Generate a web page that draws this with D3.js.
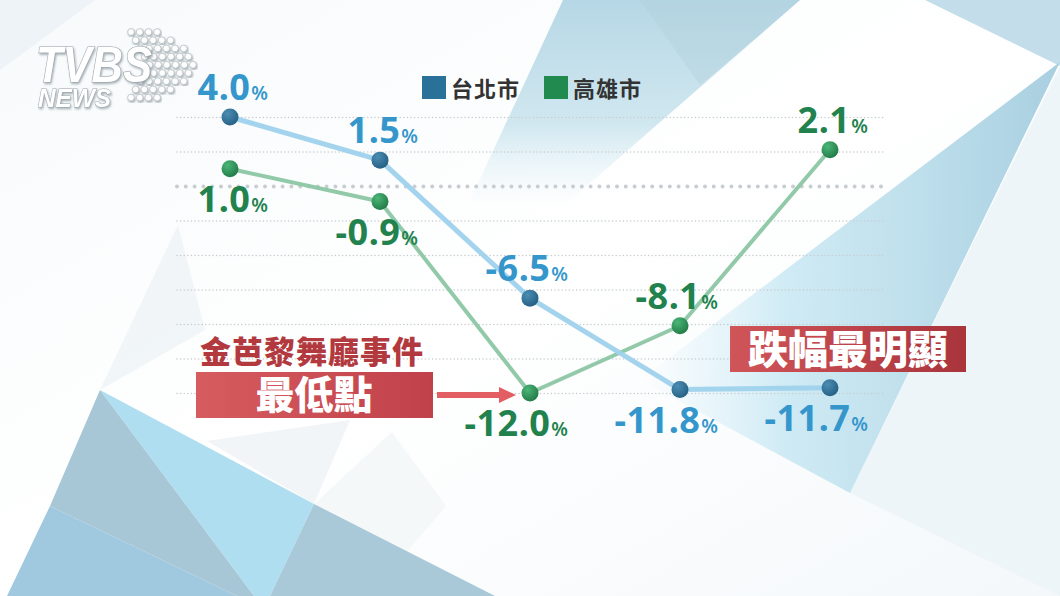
<!DOCTYPE html>
<html><head><meta charset="utf-8">
<script src="https://cdn.jsdelivr.net/npm/d3@7"></script>
<style>
html,body{margin:0;padding:0;background:#fff;}
svg{display:block;}
</style></head>
<body>
<svg id="chart" width="1060" height="596"></svg>
<script>
// ---------- data ----------
const categories = ["P1", "P2", "P3", "P4", "P5"];
const seriesNames = ["台北市", "高雄市"];
const taipei = [4.0, 1.5, -6.5, -11.8, -11.7];
const kaohsiung = [1.0, -0.9, -12.0, -8.1, 2.1];
const gridTicks = [4, 2, 0, -2, -4, -6, -8, -10, -12];
const noteEvent = "金芭黎舞廳事件";
const noteLow = "最低點";
const noteDrop = "跌幅最明顯";

const W = 1060, H = 596;
const svg = d3.select("#chart");
const defs = svg.append("defs");

// ---------- background ----------
const bg = svg.append("g");
const bgGrad = defs.append("linearGradient").attr("id","bgbase").attr("x1",0).attr("y1",0).attr("x2",1).attr("y2",1);
bgGrad.append("stop").attr("offset","0%").attr("stop-color","#f7fafb");
bgGrad.append("stop").attr("offset","50%").attr("stop-color","#ffffff");
bgGrad.append("stop").attr("offset","100%").attr("stop-color","#f4f8fa");
bg.append("rect").attr("width",W).attr("height",H).attr("fill","url(#bgbase)");

const topFade = defs.append("linearGradient").attr("id","topfade").attr("x1",0).attr("y1",0).attr("x2",0).attr("y2",1);
topFade.append("stop").attr("offset","0%").attr("stop-color","#b2d5e4").attr("stop-opacity",0.95);
topFade.append("stop").attr("offset","60%").attr("stop-color","#bcdde9").attr("stop-opacity",0.7);
topFade.append("stop").attr("offset","100%").attr("stop-color","#d6edf5").attr("stop-opacity",0.0);

const rightFade = defs.append("linearGradient").attr("id","rightfade").attr("x1",0).attr("y1",0).attr("x2",1).attr("y2",0);
rightFade.append("stop").attr("offset","0%").attr("stop-color","#d2eef8").attr("stop-opacity",0.0);
rightFade.append("stop").attr("offset","35%").attr("stop-color","#c4e6f2").attr("stop-opacity",0.8);
rightFade.append("stop").attr("offset","100%").attr("stop-color","#a8cfe0").attr("stop-opacity",1);

const bgPolys = [
  {p:[[0,0],[95,0],[0,70]], f:"#edf3f6"},
  {p:[[563,0],[800,0],[565,205],[468,205]], f:"url(#topfade)"},
  {p:[[640,0],[800,0],[700,85]], f:"#aecddb", o:0.35},
  {p:[[925,0],[1060,0],[1060,66]], f:"#c3deea"},
  {p:[[1060,66],[1060,596],[850,493]], f:"#eef5f8"},
  {p:[[1060,62],[850,493],[640,380]], f:"url(#rightfade)"},
  {p:[[100,390],[178,225],[205,330]], f:"#e9f0f4", o:0.6},
  {p:[[207,441],[314,504],[350,420]], f:"#eef3f6", o:0.8},
  {p:[[314,504],[392,432],[446,506],[400,560]], f:"#f2f6f8", o:0.8},
  {p:[[100,390],[314,504],[270,596],[254,596]], f:"#b0def1"},
  {p:[[314,504],[495,596],[270,596]], f:"#a9c8d8"},
  {p:[[100,390],[50,506],[237,596],[254,596]], f:"#a7c6d6"},
  {p:[[50,506],[7,596],[237,596]], f:"#a0c9df"}
];
bg.selectAll("polygon").data(bgPolys).join("polygon")
  .attr("points", d => d.p.map(q => q.join(",")).join(" "))
  .attr("fill", d => d.f)
  .attr("opacity", d => d.o == null ? 1 : d.o);

// ---------- scales ----------
const x = d3.scalePoint().domain(categories).range([230, 830]);
const y = d3.scaleLinear().domain([-12, 4]).range([393, 117]);

// ---------- grid ----------
const grid = svg.append("g").attr("transform","translate(177,0)")
  .call(d3.axisRight(y).tickValues(gridTicks).tickSize(706).tickFormat(""));
grid.select(".domain").remove();
grid.selectAll(".tick line")
  .attr("stroke","#c8cdd1")
  .attr("stroke-linecap","round")
  .attr("stroke-width", d => d === 0 ? 4 : 1.6)
  .attr("stroke-dasharray", d => d === 0 ? "0 8.8" : "0 3.6");

// ---------- legend ----------
const legendColors = ["#2a7199", "#218a4f"];
const leg = svg.append("g");
const legX = [422, 544];
seriesNames.forEach((n,i) => {
  leg.append("rect").attr("x",legX[i]).attr("y",76).attr("width",24).attr("height",23).attr("fill",legendColors[i]);
  leg.append("text").attr("x",legX[i]+29).attr("y",97)
    .attr("font-family","'Noto Sans CJK TC','Noto Sans CJK SC',sans-serif")
    .attr("font-weight",700).attr("font-size",22).attr("fill","#333")
    .attr("letter-spacing",1)
    .text(n);
});

// ---------- lines ----------
const series = [
  {name: seriesNames[0], values: taipei, line:"#9fd2ec", lw:5, c1:"#4d8db3", c2:"#245f83", label:"#3596cc"},
  {name: seriesNames[1], values: kaohsiung, line:"#8cc7a4", lw:4, c1:"#4cb677", c2:"#207a46", label:"#22824d"}
];
series.forEach((s,i) => {
  const g = defs.append("radialGradient").attr("id","pt"+i).attr("cx","35%").attr("cy","30%").attr("r","75%");
  g.append("stop").attr("offset","0%").attr("stop-color",s.c1);
  g.append("stop").attr("offset","100%").attr("stop-color",s.c2);
});
const lineGen = d3.line().x((d,i) => x(categories[i])).y(d => y(d));
const lg = svg.append("g");
series.slice().reverse().forEach(s => {
  lg.append("path").attr("d", lineGen(s.values)).attr("fill","none")
    .attr("stroke", s.line).attr("stroke-width", s.lw).attr("stroke-linejoin","round").attr("opacity",0.95);
});
series.forEach((s,i) => {
  lg.selectAll(null).data(s.values).join("circle")
    .attr("cx",(d,j) => x(categories[j])).attr("cy", d => y(d)).attr("r",8.5)
    .attr("fill","url(#pt"+i+")");
});

// ---------- value labels ----------
const labG = svg.append("g");
series.forEach((s,i) => {
  const other = series[1-i].values;
  s.values.forEach((v,j) => {
    const above = v > other[j];
    const t = labG.append("text")
      .attr("x", x(categories[j]) + 38)
      .attr("y", y(v) + (above ? -17 : 43))
      .attr("text-anchor","end")
      .attr("font-family","'Noto Sans','Open Sans',sans-serif")
      .attr("font-weight",700)
      .attr("fill", s.label);
    t.append("tspan").attr("font-size",36).attr("letter-spacing",0.5).text(v.toFixed(1));
    t.append("tspan").attr("font-size",19).attr("font-weight",600).attr("dx",1).text("%");
  });
});

// ---------- annotations ----------
const g1 = defs.append("linearGradient").attr("id","box1").attr("x1",0).attr("y1",0).attr("x2",1).attr("y2",0);
g1.append("stop").attr("offset","0%").attr("stop-color","#d65c5f");
g1.append("stop").attr("offset","100%").attr("stop-color","#c1414a");
const g2 = defs.append("linearGradient").attr("id","box2").attr("x1",0).attr("y1",0).attr("x2",1).attr("y2",0);
g2.append("stop").attr("offset","0%").attr("stop-color","#d05559");
g2.append("stop").attr("offset","100%").attr("stop-color","#a9343c");

const ann = svg.append("g");
const cjk = "'Noto Sans CJK TC','Noto Sans CJK SC',sans-serif";
ann.append("text").attr("x",312).attr("y",363).attr("text-anchor","middle")
  .attr("font-family",cjk).attr("font-weight",900).attr("font-size",31).attr("fill","#b23a3f")
  .attr("letter-spacing",1).text(noteEvent);
ann.append("rect").attr("x",196).attr("y",372).attr("width",237).attr("height",46).attr("fill","url(#box1)");
ann.append("text").attr("x",314).attr("y",409).attr("text-anchor","middle")
  .attr("font-family",cjk).attr("font-weight",900).attr("font-size",39).attr("fill","#fff")
  .text(noteLow);
// arrow toward lowest point
const lowIdx = kaohsiung.indexOf(d3.min(kaohsiung));
const ax = x(categories[lowIdx]) - 14, ay = y(kaohsiung[lowIdx]) + 2;
ann.append("rect").attr("x",437).attr("y",ay-3).attr("width",ax-16-437).attr("height",6).attr("fill","#e25e62");
ann.append("path").attr("d",`M${ax-17},${ay-8} L${ax},${ay} L${ax-17},${ay+8} Z`).attr("fill","#e25e62");

ann.append("rect").attr("x",730).attr("y",326).attr("width",236).attr("height",46).attr("fill","url(#box2)");
ann.append("text").attr("x",848).attr("y",364).attr("text-anchor","middle")
  .attr("font-family",cjk).attr("font-weight",900).attr("font-size",40).attr("fill","#fff")
  .text(noteDrop);

// ---------- logo ----------
const logo = svg.append("g");
const sh = defs.append("filter").attr("id","lsh").attr("x","-20%").attr("y","-20%").attr("width","140%").attr("height","140%");
sh.append("feDropShadow").attr("dx",1).attr("dy",1.5).attr("stdDeviation",1.2).attr("flood-color","#7d8a92").attr("flood-opacity",0.7);
for (let r = 0; r < 9; r++) {
  const k = 4 - Math.abs(r - 4);
  const n = 4 + Math.min(k, 2);
  const x0 = 131 + k * 4.6;
  for (let c = 0; c < n; c++) {
    logo.append("circle").attr("cx", x0 + c * 8.7).attr("cy", 32 + r * 8.2).attr("r",3.4)
      .attr("fill","#fdfdfd").attr("stroke","#b7bec3").attr("stroke-width",0.8).attr("filter","url(#lsh)");
  }
}
logo.append("text").attr("x",36).attr("y",82).attr("font-family","'Liberation Sans',Arial,sans-serif")
  .attr("font-weight",700).attr("font-style","italic").attr("font-size",50)
  .attr("textLength",116).attr("lengthAdjust","spacingAndGlyphs")
  .attr("fill","#ffffff").attr("stroke","#9ea8ae").attr("stroke-width",1.2).attr("paint-order","stroke")
  .attr("filter","url(#lsh)").text("TVBS");
logo.append("text").attr("x",38).attr("y",107).attr("font-family","'Liberation Sans',Arial,sans-serif")
  .attr("font-weight",700).attr("font-style","italic").attr("font-size",25)
  .attr("textLength",73).attr("lengthAdjust","spacingAndGlyphs")
  .attr("fill","#ffffff").attr("stroke","#9ea8ae").attr("stroke-width",1).attr("paint-order","stroke")
  .attr("filter","url(#lsh)").text("NEWS");
</script>
</body></html>
